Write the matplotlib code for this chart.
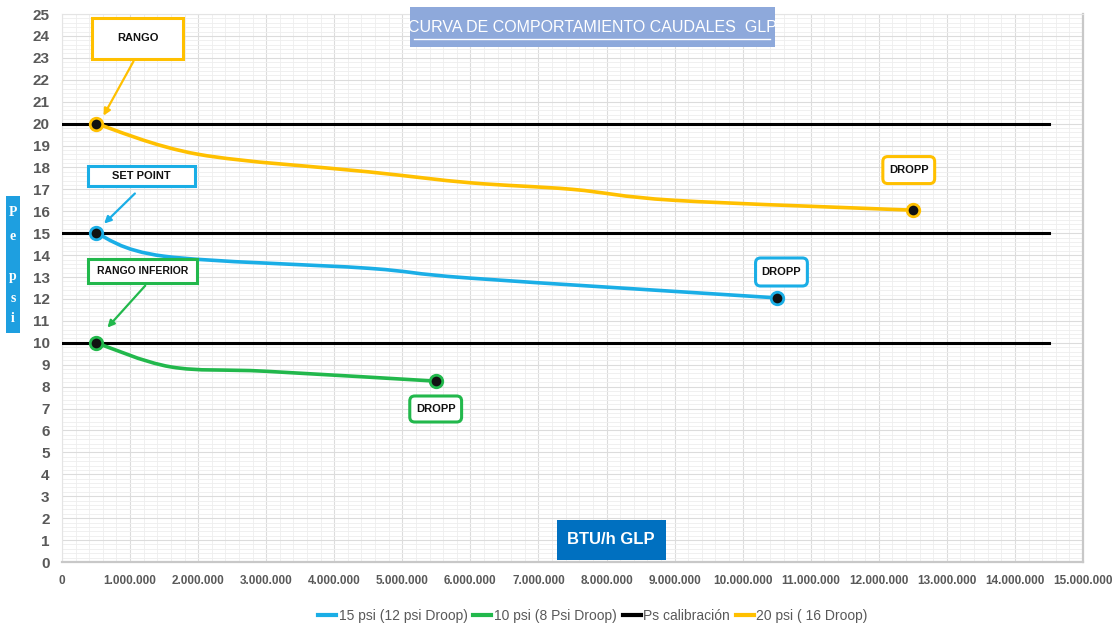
import numpy as np
import matplotlib.pyplot as plt
from matplotlib.path import Path
from matplotlib.patches import PathPatch, FancyBboxPatch, Rectangle
from matplotlib.ticker import MultipleLocator, FuncFormatter
from matplotlib.lines import Line2D

font = 'Liberation Sans'

# Data (BTU/h GLP vs psi)
x_15 = [500000, 1500000, 4500000, 6000000, 10500000]
y_15 = [15.0, 13.95, 13.4, 12.95, 12.05]

x_10 = [500000, 1600000, 3000000, 5500000]
y_10 = [10.0, 8.9, 8.7, 8.25]

x_20 = [500000, 2000000, 4500000, 6000000, 7500000, 9000000, 12500000]
y_20 = [20.0, 18.6, 17.8, 17.3, 17.0, 16.5, 16.05]

ps_levels = [20, 15, 10]
ps_x = [0, 14500000]

labels = ['15 psi (12 psi Droop)', '10 psi (8 Psi Droop)', 'Ps calibración', '20 psi ( 16 Droop)']
c_blue = '#1AAEE6'
c_green = '#22B84C'
c_black = '#000000'
c_yellow = '#FFC000'

W, H = 1115, 626
px_per_x = 68.3 / 1e6   # pixels per BTU/h
px_per_y = 21.92        # pixels per psi


def smooth_path(x, y):
    # Excel-like smoothed line: Catmull-Rom turned into cubic Bezier segments
    pts = np.column_stack([np.asarray(x, float), np.asarray(y, float)])
    verts = [pts[0]]
    codes = [Path.MOVETO]
    n = len(pts)
    for i in range(n - 1):
        p0 = pts[i - 1] if i > 0 else pts[i]
        p1 = pts[i]
        p2 = pts[i + 1]
        p3 = pts[i + 2] if i + 2 < n else pts[i + 1]
        verts += [p1 + (p2 - p0) / 6.0, p2 - (p3 - p1) / 6.0, p2]
        codes += [Path.CURVE4] * 3
    return Path(verts, codes)


fig = plt.figure(figsize=(W / 100, H / 100), dpi=100)
ax = fig.add_axes([62 / W, 1 - 562 / H, (1083 - 62) / W, (562 - 14) / H])

ax.set_xlim(0, 15000000)
ax.set_ylim(0, 25)
ax.xaxis.set_major_locator(MultipleLocator(1000000))
ax.xaxis.set_minor_locator(MultipleLocator(200000))
ax.yaxis.set_major_locator(MultipleLocator(1))
ax.yaxis.set_minor_locator(MultipleLocator(0.2))
ax.xaxis.set_major_formatter(FuncFormatter(lambda v, p: f'{int(v):,}'.replace(',', '.')))
ax.grid(which='major', color='#DCDCDC', lw=0.8)
ax.grid(which='minor', color='#EEEEEE', lw=0.6)
ax.set_axisbelow(True)
ax.tick_params(which='both', length=0)
ax.tick_params(axis='y', pad=9)
ax.tick_params(axis='x', pad=9)
for lab in ax.get_yticklabels():
    lab.set_fontfamily(font)
    lab.set_fontweight('bold')
    lab.set_fontsize(11)
    lab.set_color('#595959')
for lab in ax.get_xticklabels():
    lab.set_fontfamily(font)
    lab.set_fontweight('bold')
    lab.set_fontsize(8.5)
    lab.set_color('#595959')
for s in ['top', 'left']:
    ax.spines[s].set_color('#E4E4E4')
for s in ['bottom', 'right']:
    ax.spines[s].set_color('#C8C8C8')
    ax.spines[s].set_linewidth(1.6)

# Ps calibración lines
for lv in ps_levels:
    ax.plot(ps_x, [lv, lv], color=c_black, lw=2.2, zorder=3)

# Smoothed series
for xs, ys, c in [(x_15, y_15, c_blue), (x_10, y_10, c_green), (x_20, y_20, c_yellow)]:
    ax.add_patch(PathPatch(smooth_path(xs, ys), fill=False, edgecolor=c, lw=2.6,
                           capstyle='round', zorder=4))
    ax.plot([xs[0], xs[-1]], [ys[0], ys[-1]], 'o', ms=9, mfc='#111111', mec=c,
            mew=2.0, zorder=5)


def note(cx, cy, wpx, hpx, text, color, rounded=False, fs=8):
    w = wpx / px_per_x
    h = hpx / px_per_y
    box = FancyBboxPatch((cx - w / 2, cy - h / 2), w, h, boxstyle='square,pad=0',
                         facecolor='white', edgecolor=color, lw=2.2, zorder=6)
    if rounded:
        box.set_boxstyle('round,pad=0,rounding_size=%g' % (5 / px_per_x))
        box.set_mutation_aspect(px_per_x / px_per_y)
    ax.add_patch(box)
    ax.text(cx, cy, text, ha='center', va='center', fontsize=fs, fontweight='bold',
            family=font, color='#111111', zorder=7)


note(1110000, 23.9, 91, 41, 'RANGO', c_yellow)
note(1170000, 17.6, 108, 20, 'SET POINT', c_blue)
note(1180000, 13.28, 109, 24, 'RANGO INFERIOR', c_green, fs=7.5)
note(5490000, 6.98, 52, 26, 'DROPP', c_green, rounded=True)
note(10570000, 13.23, 52, 28, 'DROPP', c_blue, rounded=True)
note(12440000, 17.88, 52, 27, 'DROPP', c_yellow, rounded=True)

arrows = [((1070000, 22.95), (590000, 20.25), c_yellow),
          ((1100000, 16.9), (590000, 15.35), c_blue),
          ((1250000, 12.7), (640000, 10.6), c_green)]
for start, end, c in arrows:
    ax.annotate('', xy=end, xytext=start,
                arrowprops=dict(arrowstyle='-|>', color=c, lw=1.6, mutation_scale=10),
                zorder=6)

# Title box
fig.patches.append(Rectangle((410 / W, 1 - 47 / H), 365 / W, 40 / H, transform=fig.transFigure,
                             facecolor='#8EA9DB', edgecolor='none', zorder=1))
fig.text(592 / W, 1 - 28 / H, 'CURVA DE COMPORTAMIENTO CAUDALES  GLP', ha='center', va='center',
         fontsize=11.5, color='white', family=font, zorder=2)
fig.lines.append(Line2D([414 / W, 770 / W], [1 - 39 / H, 1 - 39 / H], transform=fig.transFigure,
                        color='white', lw=1.0, zorder=2))

# Y axis label box
fig.patches.append(Rectangle((6 / W, 1 - 333 / H), 14 / W, 137 / H, transform=fig.transFigure,
                             facecolor='#1E9FE0', edgecolor='none', zorder=1))
for ch, yy in [('P', 213), ('e', 236), ('p', 277), ('s', 298), ('i', 318)]:
    fig.text(13 / W, 1 - yy / H, ch, ha='center', va='center', fontsize=10, fontweight='bold',
             color='white', family='Liberation Serif', zorder=2)

# X axis label box
fig.patches.append(Rectangle((557 / W, 1 - 560 / H), 109 / W, 40 / H, transform=fig.transFigure,
                             facecolor='#0070C0', edgecolor='none', zorder=8))
fig.text(611 / W, 1 - 539 / H, 'BTU/h GLP', ha='center', va='center', fontsize=12,
         fontweight='bold', color='white', family=font, zorder=9)

# Legend
handles = [Line2D([], [], color=c, lw=3) for c in [c_blue, c_green, c_black, c_yellow]]
leg = fig.legend(handles, labels, loc='center', bbox_to_anchor=(593 / W, 1 - 616 / H), ncol=4,
                 frameon=False, handlelength=1.3, handletextpad=0.2, columnspacing=0.4,
                 prop={'family': font, 'size': 10})
for t in leg.get_texts():
    t.set_color('#595959')

fig.savefig('out.png', dpi=100)
